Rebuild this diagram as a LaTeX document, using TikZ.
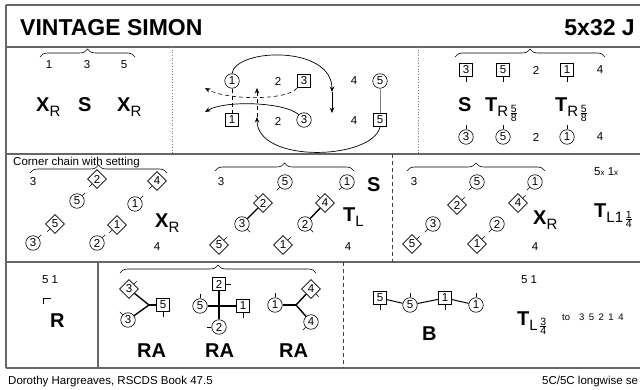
\documentclass[tikz,border=0pt]{standalone}
\usepackage{fontspec}
\setmainfont{Liberation Sans}
\usetikzlibrary{shapes.geometric,decorations.pathreplacing,arrows.meta}
\newcommand\BL[1]{{\fontsize{20}{20}\selectfont\bfseries #1}}
\newcommand\SB[1]{\raisebox{-5pt}{\fontsize{15}{15}\selectfont #1}}
\newcommand\FR[2]{\kern1.5pt\raisebox{-4.5pt}{\fontsize{10.5}{10.5}\selectfont$\displaystyle\mbox{#1}\above0.6pt\mbox{#2}$}}
\begin{document}
\begin{tikzpicture}[x=1pt,y=-1pt,
  lab/.style={inner sep=0pt, font=\fontsize{11.5}{12}\selectfont},
  cir/.style={lab, circle, draw, line width=0.6pt, minimum size=14.5pt},
  sqr/.style={lab, rectangle, draw, line width=0.6pt, minimum size=13.5pt},
  dia/.style={lab, diamond, draw, line width=0.6pt, minimum size=19pt},
  tk/.style={line width=0.6pt},
  hold/.style={line width=1.4pt},
  big/.style={inner sep=0pt, anchor=base west},
  frame/.style={draw=black!60, line width=1.2pt},
  brc/.style={decorate, decoration={brace, amplitude=8pt}, line width=0.6pt},
  arr/.style={line width=0.7pt, -{Stealth[length=5.5pt,width=4.5pt]}},
  dsh/.style={dash pattern=on 4pt off 3pt, line width=0.6pt}
]
\useasboundingbox (0,0) rectangle (640,390);
% frame
\draw[frame] (6,5) -- (640,5);
\draw[frame] (6,5) -- (6,368);
\draw[frame] (6,47) -- (640,47);
\draw[frame] (6,154) -- (640,154);
\draw[frame] (6,262) -- (640,262);
\draw[frame] (6,368) -- (640,368);
\draw[frame] (98,262) -- (98,368);
\draw[dotted, gray, line width=0.7pt] (172,47) -- (172,154);
\draw[dotted, gray, line width=0.7pt] (418,47) -- (418,154);
\draw[dsh, black!75] (392,154) -- (392,262);
\draw[dsh, black!75] (343,262) -- (343,368);
% title
\node[inner sep=0pt, anchor=base west, font=\fontsize{23}{23}\selectfont\bfseries] (title) at (20,36) {VINTAGE SIMON};
\node[inner sep=0pt, anchor=base east, font=\fontsize{23}{23}\selectfont\bfseries] (form) at (635,36) {5x32 J};
\node[lab, anchor=base west] (foot1) at (8,384) {Dorothy Hargreaves, RSCDS Book 47.5};
\node[lab, anchor=base west] (foot2) at (542,384) {5C/5C longwise se};

% ---------- row 1 left
\draw[brc] (40,57) -- (135,57);
\node[lab] (l1) at (49,65) {1};
\node[lab] (l3) at (87,65) {3};
\node[lab] (l5) at (124,65) {5};
\node[big] (xa) at (36,112) {\BL{X}\SB{R}};
\node[big] (sa) at (78,112) {\BL{S}};
\node[big] (xb) at (117,112) {\BL{X}\SB{R}};

% ---------- row 1 middle
\node[cir] (m1) at (232,81) {1};
\node[lab] (m2) at (278,81) {2};
\node[sqr] (m3) at (304,81) {3};
\node[lab] (m4) at (354,81) {4};
\node[cir] (m5) at (380,81) {5};
\node[sqr] (n1) at (232,120) {1};
\node[lab] (n2) at (278,121) {2};
\node[cir] (n3) at (304,120) {3};
\node[lab] (n4) at (354,121) {4};
\node[sqr] (n5) at (380,120) {5};
\coordinate (a1) at (332,92);
\coordinate (a2) at (332,113);
\coordinate (d1) at (205,88);
\coordinate (s1) at (205,112);
\coordinate (u1) at (257,117);
\coordinate (u2) at (257,88);
\draw[gray, line width=0.7pt] (m5) -- (n5);
\draw[dsh] (m1) -- (n1);
\draw[arr] (m1.north) .. controls (236,48) and (332,45) .. (a1);
\draw[arr] (a1) -- (a2);
\draw[arr, dsh] (m3.south west) .. controls (287,101) and (226,100) .. (d1);
\draw[arr] (n3.north west) .. controls (285,102) and (225,100) .. (s1);
\draw[arr] (n5.south) .. controls (372,160) and (257,164) .. (u1);
\draw[arr, dsh] (u1) -- (u2);

% ---------- row 1 right
\draw[brc] (455,57) -- (605,57);
\node[sqr] (p3) at (466,70) {3};
\node[sqr] (p5) at (503,70) {5};
\node[lab] (p2) at (536,70) {2};
\node[sqr] (p1) at (567,70) {1};
\node[lab] (p4) at (600,70) {4};
\foreach \n in {p3,p5,p1} \draw[tk] (\n.south) -- ++(270:4.5pt);
\node[big] (sb) at (458,112) {\BL{S}};
\node[big] (ta) at (485,112) {\BL{T}\SB{R}\FR{5}{8}};
\node[big] (tb) at (555,112) {\BL{T}\SB{R}\FR{5}{8}};
\node[cir] (q3) at (466,137) {3};
\node[cir] (q5) at (503,137) {5};
\node[lab] (q2) at (536,137) {2};
\node[cir] (q1) at (567,137) {1};
\node[lab] (q4) at (600,137) {4};
\foreach \n in {q3,q5,q1} \draw[tk] (\n.north) -- ++(90:4.5pt);

% ---------- row 2 first
\node[lab, anchor=base west, font=\fontsize{11.5}{12}\selectfont] (cc) at (13,166) {Corner chain with setting};
\draw[brc] (30,173) -- (167,173);
\node[lab] (a3) at (33,182) {3};
\node[dia] (ad2) at (97,179) {2};
\node[dia] (ad4) at (157,181) {4};
\node[cir] (ac5) at (77,201) {5};
\node[cir] (ac1) at (135,204) {1};
\node[dia] (ad5) at (55,224) {5};
\node[dia] (ad1) at (117,225) {1};
\node[cir] (ac3) at (33,243) {3};
\node[cir] (ac2) at (97,243) {2};
\node[lab] (a4) at (157,247) {4};
\node[big] (xc) at (155,228) {\BL{X}\SB{R}};
\foreach \n in {ad2,ad4,ad5,ad1} \draw[tk] (\n.225) -- ++(225:4pt);
\foreach \n in {ac5,ac1,ac3,ac2} \draw[tk] (\n.45) -- ++(45:4pt);

% ---------- row 2 second
\draw[brc] (215,171) -- (354,171);
\node[lab] (b3) at (221,182) {3};
\node[cir] (bc5) at (285,182) {5};
\node[cir] (bc1) at (347,182) {1};
\node[big] (sc) at (367,192) {\BL{S}};
\node[dia] (bd2) at (263,203) {2};
\node[dia] (bd4) at (325,203) {4};
\node[cir] (bc3) at (242,224) {3};
\node[cir] (bc2) at (305,224) {2};
\node[big] (tc) at (343,222) {\BL{T}\SB{L}};
\node[dia] (bd5) at (219,245) {5};
\node[dia] (bd1) at (283,245) {1};
\node[lab] (b4) at (348,247) {4};
\foreach \n in {bc5,bc1} \draw[tk] (\n.225) -- ++(225:4pt);
\foreach \n in {bd2,bd4} \draw[tk] (\n.135) -- ++(135:4pt);
\foreach \n in {bc3,bc2} \draw[tk] (\n.315) -- ++(315:4pt);
\foreach \n in {bd5,bd1} \draw[tk] (\n.45) -- ++(45:4pt);
\draw[hold] (bd2) -- (bc3);
\draw[hold] (bd4) -- (bc2);

% ---------- row 2 third
\draw[brc] (407,171) -- (545,171);
\node[lab] (c3) at (414,182) {3};
\node[cir] (cc5) at (477,182) {5};
\node[cir] (cc1) at (535,182) {1};
\node[dia] (cd2) at (457,205) {2};
\node[dia] (cd4) at (518,203) {4};
\node[cir] (cc3) at (433,224) {3};
\node[cir] (cc2) at (497,224) {2};
\node[dia] (cd5) at (412,244) {5};
\node[dia] (cd1) at (477,244) {1};
\node[lab] (c4) at (535,247) {4};
\node[big] (xd) at (533,225) {\BL{X}\SB{R}};
\foreach \n in {cc5,cc1,cc3,cc2} \draw[tk] (\n.225) -- ++(225:4pt);
\foreach \n in {cd2,cd4,cd5,cd1} \draw[tk] (\n.45) -- ++(45:4pt);
\node[lab, anchor=base west] (rep) at (594,176) {5{\fontsize{8}{8}\selectfont x} 1{\fontsize{8}{8}\selectfont x}};
\node[big] (td) at (594,218) {\BL{T}\SB{L1}\FR{1}{4}};

% ---------- row 3 left
\node[lab] (r51) at (50,280) {5 1};
\coordinate (k1) at (43,304);
\coordinate (k2) at (43,298);
\coordinate (k3) at (51,298);
\draw[line width=0.6pt] (k1) -- (k2) -- (k3);
\node[big] (rr) at (50,327) {\BL{R}};

% ---------- row 3 RA
\draw[brc] (120,273) -- (316,273);
\node[dia] (e3) at (129,289) {3};
\node[sqr] (e5) at (163,305) {5};
\node[cir] (f3) at (128,320) {3};
\coordinate (j1) at (149,305);
\draw[tk] (e3.45) -- ++(45:4pt);
\draw[tk] (e5.south) -- ++(270:4.5pt);
\draw[tk] (f3.135) -- ++(135:4pt);
\draw[hold] (e3) -- (j1);
\draw[hold] (f3) -- (j1);
\draw[hold] (j1) -- (e5);

\node[sqr] (g2) at (219,284) {2};
\node[cir] (g5) at (200,306) {5};
\node[sqr] (g1) at (243,306) {1};
\node[cir] (h2) at (219,327) {2};
\coordinate (j2) at (219,306);
\draw[tk] (g2.east) -- ++(0:4.5pt);
\draw[tk] (g5.north) -- ++(90:4.5pt);
\draw[tk] (g1.south) -- ++(270:4.5pt);
\draw[tk] (h2.west) -- ++(180:4.5pt);
\draw[hold] (g2) -- (j2);
\draw[hold] (h2) -- (j2);
\draw[hold] (g5) -- (j2);
\draw[hold] (g1) -- (j2);

\node[cir] (i1) at (275,305) {1};
\node[dia] (i4) at (311,289) {4};
\node[cir] (k4) at (311,322) {4};
\coordinate (j3) at (296,305);
\draw[tk] (i1.north) -- ++(90:4.5pt);
\draw[tk] (i4.315) -- ++(315:4pt);
\draw[tk] (k4.225) -- ++(225:4pt);
\draw[hold] (i1) -- (j3);
\draw[hold] (i4) -- (j3);
\draw[hold] (k4) -- (j3);

\node[big] (ra1) at (137,357) {\BL{RA}};
\node[big] (ra2) at (205,357) {\BL{RA}};
\node[big] (ra3) at (279,357) {\BL{RA}};

% ---------- row 3 right
\node[sqr] (w5) at (380,298) {5};
\node[cir] (v5) at (410,305) {5};
\node[sqr] (w1) at (445,298) {1};
\node[cir] (v1) at (476,305) {1};
\draw[tk] (w5.south) -- ++(270:4.5pt);
\draw[tk] (w1.south) -- ++(270:4.5pt);
\draw[tk] (v5.north) -- ++(90:4.5pt);
\draw[tk] (v1.north) -- ++(90:4.5pt);
\draw[line width=1pt] (w5) -- (v5);
\draw[line width=1pt] (v5) -- (w1);
\draw[line width=1pt] (w1) -- (v1);
\node[big] (bb) at (422,340) {\BL{B}};
\node[lab] (s51) at (529,280) {5 1};
\node[big] (te) at (517,325) {\BL{T}\SB{L}\FR{3}{4}};
\node[lab, anchor=base west, font=\fontsize{9.5}{10}\selectfont] (to) at (562,320) {to\hspace{9pt}3\hspace{4.5pt}5\hspace{4.5pt}2\hspace{4.5pt}1\hspace{4.5pt}4};
\end{tikzpicture}
\end{document}
